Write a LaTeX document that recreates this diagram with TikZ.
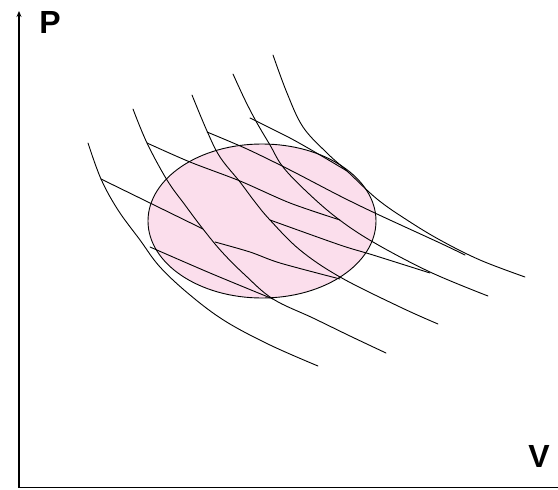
\documentclass[tikz,border=0pt]{standalone}
\usepackage{fontspec}
\setmainfont{Liberation Sans}
\usetikzlibrary{arrows.meta}
\definecolor{pinkfill}{RGB}{251,222,236}
\begin{document}
\begin{tikzpicture}[x=1pt,y=-1pt,
  curvestyle/.style={line width=0.9pt, black, line join=round, line cap=round},
  axisstyle/.style={line width=1.3pt, black},
  lbl/.style={font=\bfseries\fontsize{32}{32}\selectfont, inner sep=0pt}]
\useasboundingbox (0,0) rectangle (558,490);
\fill[white] (0,0) rectangle (558,490);
% cycle region
\filldraw[fill=pinkfill, draw=black, line width=0.9pt] (262,221) ellipse [x radius=114, y radius=77];
% steep curves
\draw[curvestyle] plot[smooth, tension=0.6] coordinates {(88,143) (101,179) (118,210) (140,240) (160,267) (190,295) (225,321) (270,345) (318,366)};
\draw[curvestyle] plot[smooth, tension=0.6] coordinates {(133,109) (147,143) (167,180) (185,205) (203,229) (222,252) (245,275) (273,299) (313,318) (350,336) (386,353)};
\draw[curvestyle] plot[smooth, tension=0.6] coordinates {(192,95) (207,131) (220,157) (240,182) (255,202) (270,220) (300,250) (340,277) (400,307) (438,324)};
\draw[curvestyle] plot[smooth, tension=0.6] coordinates {(233,74) (245,100) (257,123) (270,145) (283,167) (307,192) (337,218) (373,242) (430,272) (488,296)};
\draw[curvestyle] plot[smooth, tension=0.6] coordinates {(273,55) (287,93) (303,127) (327,153) (347,171) (377,199) (407,220) (440,240) (480,260) (525,277)};
% shallow lines
\draw[curvestyle] plot[smooth, tension=0.5] coordinates {(101,179) (150,203) (203,229)};
\draw[curvestyle] plot[smooth, tension=0.5] coordinates {(147,143) (190,162) (240,181) (290,203) (340,220)};
\draw[curvestyle] plot[smooth, tension=0.5] coordinates {(207,132) (247,149) (290,170) (340,196) (377,214) (440,243) (465,255)};
\draw[curvestyle] plot[smooth, tension=0.5] coordinates {(250,118) (290,138) (320,155) (347,171)};
\draw[curvestyle] plot[smooth, tension=0.5] coordinates {(150,247) (210,273) (273,299)};
\draw[curvestyle] plot[smooth, tension=0.5] coordinates {(215,242) (250,252) (280,263) (340,279)};
\draw[curvestyle] plot[smooth, tension=0.5] coordinates {(270,220) (340,245) (373,255) (430,273)};
% axes
\coordinate (O) at (19,487.5);
\coordinate (Ptop) at (19,11);
\coordinate (Vend) at (558,487.5);
\draw[axisstyle, -{Stealth[length=6pt,width=5pt]}] (O) -- (Ptop);
\draw[axisstyle] ([xshift=-0.6pt]O) -- (Vend);
\node[lbl] (P) at (50,22) {P};
\node[lbl] (V) at (539,456) {V};
\end{tikzpicture}
\end{document}
